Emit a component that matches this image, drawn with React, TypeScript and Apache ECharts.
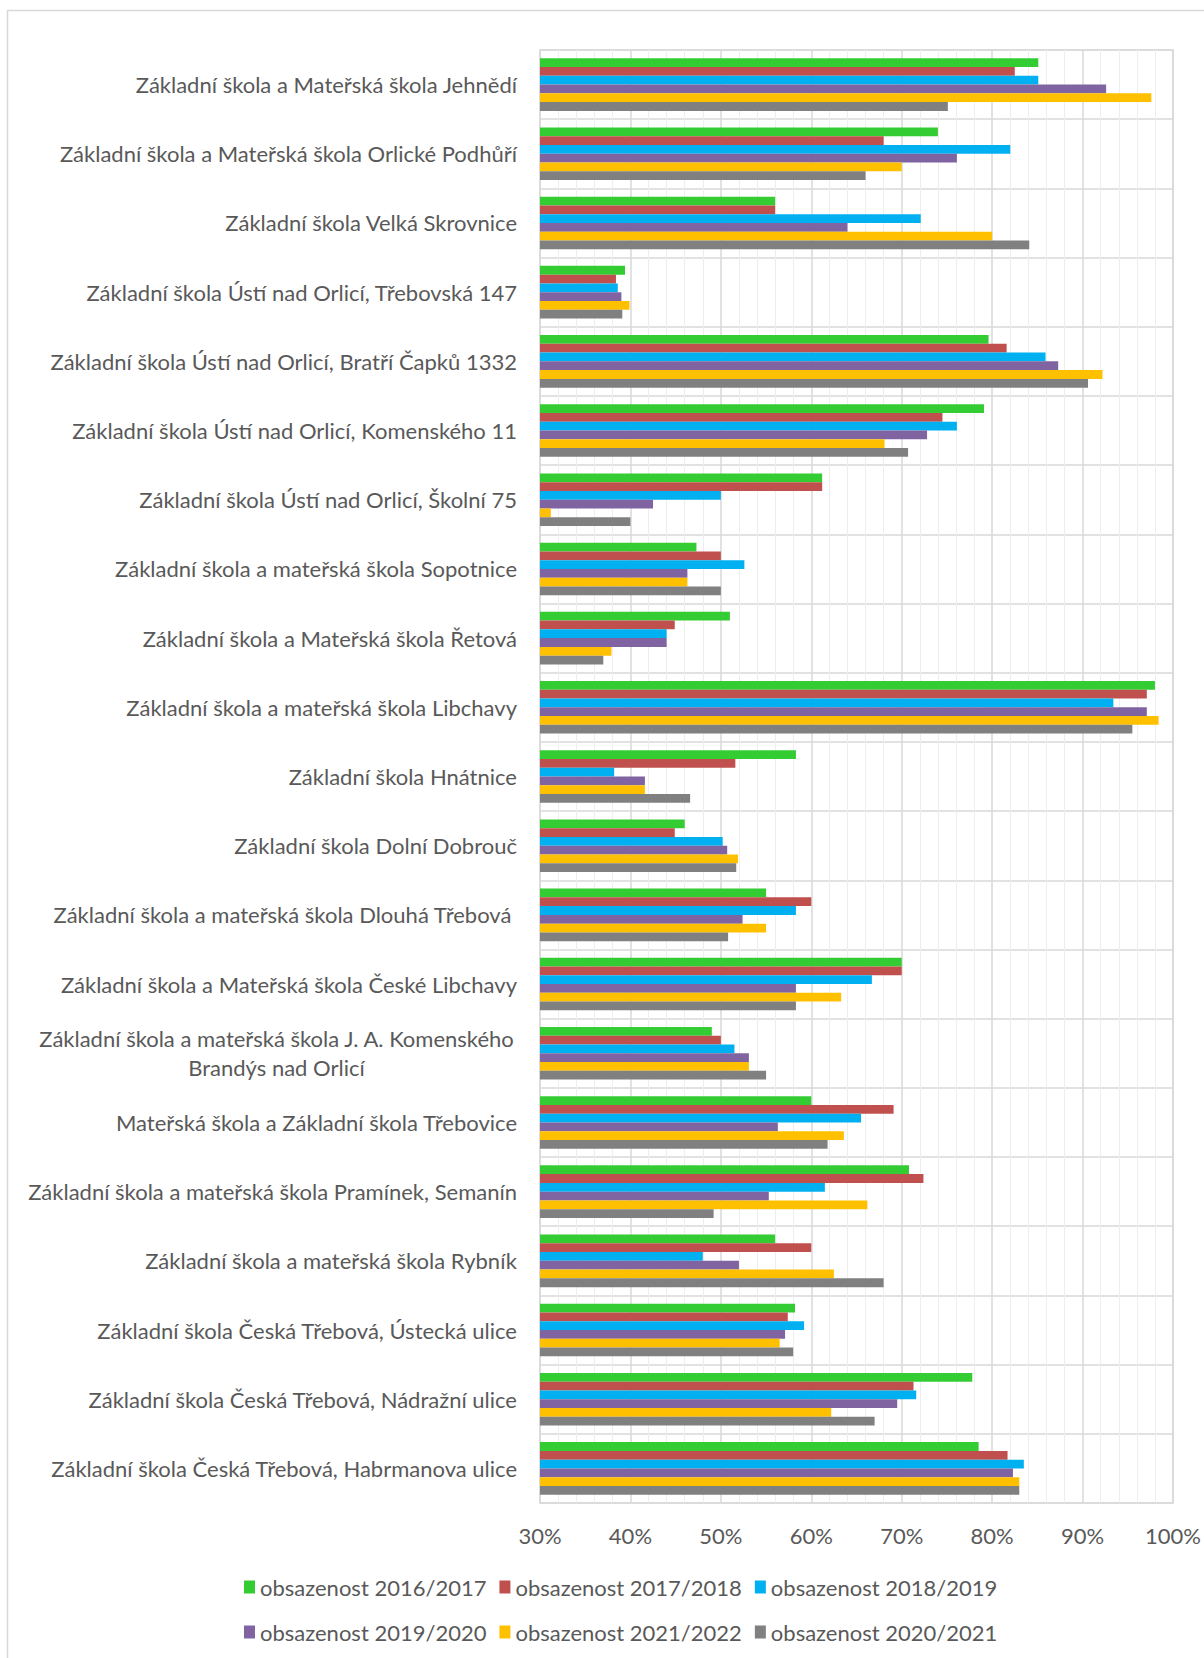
import React, { useEffect, useRef } from "react";
import * as echarts from "echarts";

const categories: string[] = [
  "Základní škola a Mateřská škola Jehnědí",
  "Základní škola a Mateřská škola Orlické Podhůří",
  "Základní škola Velká Skrovnice",
  "Základní škola Ústí nad Orlicí, Třebovská 147",
  "Základní škola Ústí nad Orlicí, Bratří Čapků 1332",
  "Základní škola Ústí nad Orlicí, Komenského 11",
  "Základní škola Ústí nad Orlicí, Školní 75",
  "Základní škola a mateřská škola Sopotnice",
  "Základní škola a Mateřská škola Řetová",
  "Základní škola a mateřská škola Libchavy",
  "Základní škola Hnátnice",
  "Základní škola Dolní Dobrouč",
  "Základní škola a mateřská škola Dlouhá Třebová ",
  "Základní škola a Mateřská škola České Libchavy",
  "Základní škola a mateřská škola J. A. Komenského\nBrandýs nad Orlicí",
  "Mateřská škola a Základní škola Třebovice",
  "Základní škola a mateřská škola Pramínek, Semanín",
  "Základní škola a mateřská škola Rybník",
  "Základní škola Česká Třebová, Ústecká ulice",
  "Základní škola Česká Třebová, Nádražní ulice",
  "Základní škola Česká Třebová, Habrmanova ulice",
];

const seriesNames: string[] = [
  "obsazenost 2016/2017",
  "obsazenost 2017/2018",
  "obsazenost 2018/2019",
  "obsazenost 2019/2020",
  "obsazenost 2021/2022",
  "obsazenost 2020/2021",
];

const v2016_2017: number[] = [85.1, 74.0, 56.0, 39.4, 79.6, 79.1, 61.2, 47.3, 51.0, 98.0, 58.3, 46.0, 55.0, 70.0, 49.0, 60.0, 70.8, 56.0, 58.2, 77.8, 78.5];
const v2017_2018: number[] = [82.5, 68.0, 56.0, 38.4, 81.6, 74.5, 61.2, 50.0, 44.9, 97.1, 51.6, 44.9, 60.0, 70.0, 50.0, 69.1, 72.4, 60.0, 57.4, 71.3, 81.7];
const v2018_2019: number[] = [85.1, 82.0, 72.1, 38.6, 85.9, 76.1, 50.0, 52.6, 44.0, 93.4, 38.2, 50.2, 58.3, 66.7, 51.5, 65.5, 61.5, 48.0, 59.2, 71.6, 83.5];
const v2019_2020: number[] = [92.6, 76.1, 64.0, 39.0, 87.3, 72.8, 42.5, 46.3, 44.0, 97.1, 41.6, 50.7, 52.4, 58.3, 53.1, 56.3, 55.3, 52.0, 57.1, 69.5, 82.3];
const v2021_2022: number[] = [97.6, 70.0, 80.0, 39.9, 92.2, 68.1, 31.2, 46.3, 37.9, 98.4, 41.6, 51.9, 55.0, 63.3, 53.1, 63.6, 66.2, 62.5, 56.5, 62.2, 83.0];
const v2020_2021: number[] = [75.1, 66.0, 84.1, 39.1, 90.6, 70.7, 40.0, 50.0, 37.0, 95.5, 46.6, 51.7, 50.8, 58.3, 55.0, 61.8, 49.2, 68.0, 58.0, 67.0, 83.0];

const seriesValues: number[][] = [v2016_2017, v2017_2018, v2018_2019, v2019_2020, v2021_2022, v2020_2021];
const colors: string[] = ["#33CC33", "#C0504D", "#00B0F0", "#8064A2", "#FFC000", "#808080"];

const FONT = "Lato";
const TXT = "#595959";

export default function App() {
  const ref = useRef<HTMLDivElement>(null);
  useEffect(() => {
    if (!ref.current) return;
    const chart = echarts.init(ref.current, undefined, { renderer: "svg" });
    const legendCommon = {
      itemGap: 13,
      itemWidth: 11,
      itemHeight: 13,
      icon: "rect",
      textStyle: { fontSize: 22, color: TXT, fontFamily: FONT },
    };
    chart.setOption({
      animation: false,
      backgroundColor: "#ffffff",
      graphic: [
        {
          type: "rect",
          silent: true,
          shape: { x: 7.5, y: 10.5, width: 1400, height: 1800 },
          style: { fill: "none", stroke: "#d9d9d9", lineWidth: 1.5 },
        },
      ],
      legend: [
        { ...legendCommon, left: 239, top: 1571, data: seriesNames.slice(0, 3) },
        { ...legendCommon, left: 239, top: 1616, data: seriesNames.slice(3, 6) },
      ],
      grid: { left: 540, right: 27, top: 50, bottom: 155, show: true, borderColor: "#d9d9d9", borderWidth: 1.5 },
      xAxis: {
        type: "value",
        min: 30,
        max: 100,
        interval: 10,
        axisLine: { show: false },
        axisTick: { show: false },
        axisLabel: {
          formatter: "{value}%",
          fontSize: 22,
          color: TXT,
          fontFamily: FONT,
          margin: 21,
        },
        splitLine: { show: true, lineStyle: { color: "#d9d9d9", width: 1.5 } },
        minorTick: { show: false, splitNumber: 5 },
        minorSplitLine: { show: true, lineStyle: { color: "#eeeeee", width: 1 } },
      },
      yAxis: {
        type: "category",
        inverse: true,
        data: categories,
        axisLine: { show: false },
        axisTick: { show: false },
        splitLine: { show: true, lineStyle: { color: "#d9d9d9", width: 1.5 } },
        axisLabel: {
          fontSize: 22,
          color: TXT,
          fontFamily: FONT,
          margin: 23,
          interval: 0,
          formatter: (val: string) => {
            if (val.indexOf("\n") >= 0) {
              return val
                .split("\n")
                .map((l) => "{c|" + l + "}")
                .join("\n");
            }
            return val;
          },
          rich: {
            c: { width: 481, align: "center", fontSize: 22, color: TXT, fontFamily: FONT, lineHeight: 29 },
          },
        },
      },
      series: seriesNames.map((name, i) => ({
        name,
        type: "bar",
        data: seriesValues[i],
        barGap: "0%",
        barCategoryGap: "24%",
        itemStyle: { color: colors[i] },
      })),
    });
    return () => chart.dispose();
  }, []);
  return (
    <div
      ref={ref}
      style={{ position: "absolute", left: 0, top: 0, width: 1204, height: 1658 }}
    />
  );
}
